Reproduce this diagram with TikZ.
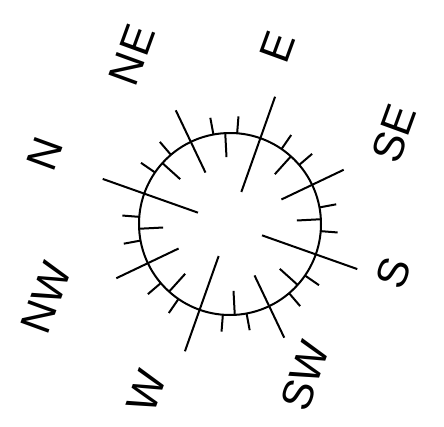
\documentclass[tikz,border=0pt]{standalone}
\usepackage{fontspec}
\setmainfont{Liberation Sans}
\begin{document}
\begin{tikzpicture}[
    x=1pt, y=1pt,
    tick line/.style={line width=2pt},
    label node/.style={font=\fontsize{43}{43}\selectfont, inner sep=0pt, rotate=70}
    ]
    \useasboundingbox (-230,-202) rectangle (214,224);
    % one sector: a middle tick inside the ring, two short ones outside
    \newcommand{\drawsector}[1]{
        \draw[tick line] ({#1}:67) -- ({#1}:91);
        \draw[tick line] ({#1+7.5}:91) -- ({#1+7.5}:108);
        \draw[tick line] ({#1-7.5}:91) -- ({#1-7.5}:108);
    }
    \coordinate (O) at (0,0);
    \draw[tick line] (O) circle (91pt);

    % main directions
    \draw[tick line] (160.5:34) -- (160.5:135);
    \draw[tick line] (70.5:34) -- (70.5:135);
    \draw[tick line] (-19.5:34) -- (-19.5:135);
    \draw[tick line] (250.5:34) -- (250.5:135);
    % in between
    \draw[tick line] (115.5:57) -- (115.5:126);
    \draw[tick line] (25.5:57) -- (25.5:126);
    \draw[tick line] (-64.5:57) -- (-64.5:126);
    \draw[tick line] (205.5:57) -- (205.5:126);

    \drawsector{138}
    \drawsector{93}
    \drawsector{48}
    \drawsector{3}
    \drawsector{-42}
    \drawsector{-87}
    \drawsector{-132}
    \drawsector{-177}

    \node[label node] (lN) at (-185,70) {N};
    \node[label node] (lNE) at (-98,169) {NE};
    \node[label node] (lE) at (48,177) {E};
    \node[label node] (lSE) at (164,91) {SE};
    \node[label node] (lS) at (163,-49) {S};
    \node[label node] (lSW) at (75,-151.5) {SW};
    \node[label node] (lW) at (-83,-167) {W};
    \node[label node] (lNW) at (-184,-74) {NW};
\end{tikzpicture}
\end{document}
